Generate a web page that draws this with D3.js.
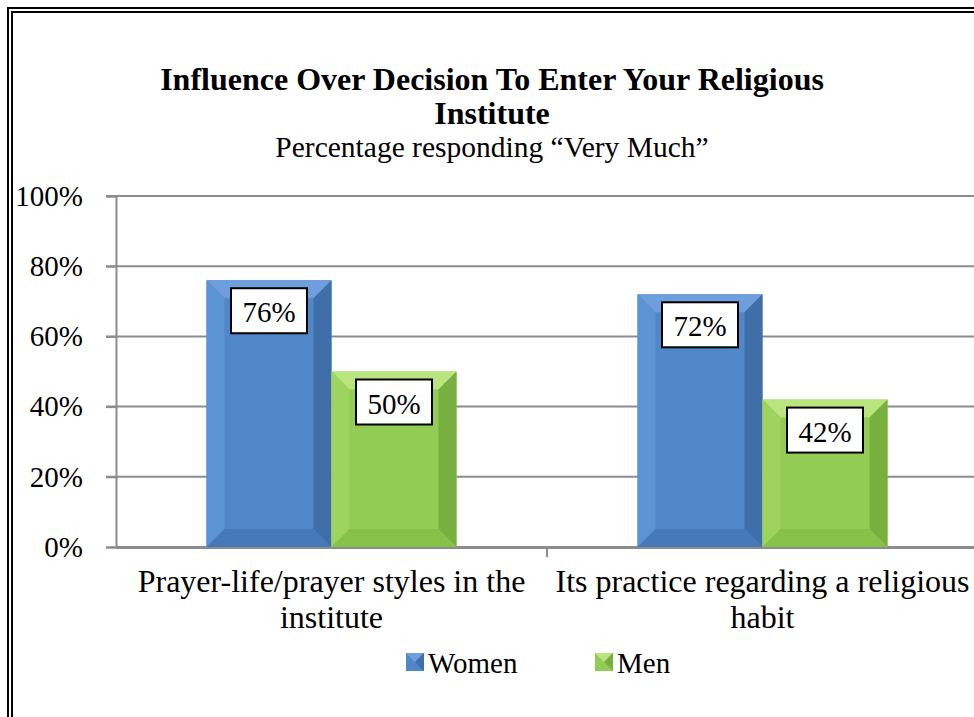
<!DOCTYPE html>
<html>
<head>
<meta charset="utf-8">
<script src="https://cdn.jsdelivr.net/npm/d3@7"></script>
</head>
<body style="margin:0; background:#fff;">
<script>
var w = 974;
var h = 717;
var font = "Liberation Serif";

var categories = ["Prayer-life/prayer styles in the institute", "Its practice regarding a religious habit"];
var categoryLines = [["Prayer-life/prayer styles in the", "institute"], ["Its practice regarding a religious", "habit"]];
var seriesNames = ["Women", "Men"];
var women = [0.76, 0.72];
var men = [0.50, 0.42];
var yTicks = [0, 0.2, 0.4, 0.6, 0.8, 1.0];

var colors = {
	Women: { face: "#5087C8", top: "#6E9FDC", left: "#5C93D2", right: "#3F6EA8", bottom: "#4679B8" },
	Men: { face: "#92CC55", top: "#B9E47E", left: "#9DD45F", right: "#78B040", bottom: "#86C24A" }
};

var svg = d3.select("body")
			.append("svg")
			.attr("width", w)
			.attr("height", h)
			.style("font-family", font);

svg.append("rect").attr("width", w).attr("height", h).attr("fill", "#fff");

// double border
svg.append("rect")
	.attr("x", 8).attr("y", 8).attr("width", 1000).attr("height", 1000)
	.attr("fill", "none").attr("stroke", "#000").attr("stroke-width", 2);
svg.append("rect")
	.attr("x", 12).attr("y", 12).attr("width", 1000).attr("height", 1000)
	.attr("fill", "none").attr("stroke", "#000").attr("stroke-width", 2);

// title
svg.append("text")
	.attr("x", 492).attr("y", 90)
	.attr("text-anchor", "middle")
	.style("font-family", font)
	.attr("font-weight", "bold").attr("font-size", 32)
	.text("Influence Over Decision To Enter Your Religious");
svg.append("text")
	.attr("x", 492).attr("y", 124)
	.attr("text-anchor", "middle")
	.style("font-family", font)
	.attr("font-weight", "bold").attr("font-size", 32)
	.text("Institute");
svg.append("text")
	.attr("x", 492).attr("y", 157)
	.attr("text-anchor", "middle")
	.style("font-family", font)
	.attr("font-size", 29.5)
	.text("Percentage responding \u201CVery Much\u201D");

var xScale = d3.scaleBand()
				.domain(categories)
				.range([116, 978]);

var xInner = d3.scaleBand()
				.domain(seriesNames)
				.range([0, xScale.bandwidth()])
				.paddingOuter(0.724);

var yScale = d3.scaleLinear()
				.domain([0, 1])
				.range([547, 196]);

// gridlines
svg.selectAll("line.grid")
	.data(yTicks.slice(1))
	.enter()
	.append("line")
	.attr("class", "grid")
	.attr("x1", 106).attr("x2", 980)
	.attr("y1", function(d) { return yScale(d); })
	.attr("y2", function(d) { return yScale(d); })
	.attr("stroke", "#8c8c8c").attr("stroke-width", 2);

// y axis
var yAxis = d3.axisLeft(yScale)
				.tickValues(yTicks)
				.tickSize(10)
				.tickPadding(23)
				.tickFormat(d3.format(".0%"));
var gy = svg.append("g").attr("transform", "translate(116,0)").call(yAxis);
gy.select(".domain").attr("stroke", "#8c8c8c").attr("stroke-width", 2);
gy.selectAll(".tick line").attr("stroke", "#8c8c8c").attr("stroke-width", 2);
gy.selectAll(".tick text")
	.style("font-family", font)
	.attr("font-size", 29)
	.attr("fill", "#000");

// x axis
var xAxis = d3.axisBottom(xScale).tickSize(0).tickFormat("");
var gx = svg.append("g").attr("transform", "translate(0,547)").call(xAxis);
gx.select(".domain").attr("stroke", "#8c8c8c").attr("stroke-width", 3);
gx.selectAll(".tick").remove();
svg.append("line")
	.attr("x1", xScale.range()[0] + xScale.bandwidth()).attr("x2", xScale.range()[0] + xScale.bandwidth())
	.attr("y1", 547).attr("y2", 557)
	.attr("stroke", "#8c8c8c").attr("stroke-width", 2);

// category labels
categories.forEach(function(c, i) {
	var t = svg.append("text")
		.attr("x", xScale(c) + xScale.bandwidth() / 2)
		.attr("text-anchor", "middle")
		.style("font-family", font)
		.attr("font-size", 32);
	categoryLines[i].forEach(function(line, j) {
		t.append("tspan")
			.attr("x", xScale(c) + xScale.bandwidth() / 2)
			.attr("y", 592 + j * 36)
			.text(line);
	});
});

// bars data
var bars = [];
categories.forEach(function(c, i) {
	bars.push({ cat: c, series: "Women", value: women[i] });
	bars.push({ cat: c, series: "Men", value: men[i] });
});

var bev = 18;

var barG = svg.selectAll("g.bar")
	.data(bars)
	.enter()
	.append("g")
	.attr("class", "bar");

barG.each(function(d) {
	var g = d3.select(this);
	var x0 = xScale(d.cat) + xInner(d.series);
	var x1 = x0 + xInner.bandwidth();
	var y0 = yScale(d.value);
	var y1 = yScale(0);
	var c = colors[d.series];
	var b = Math.min(bev, (y1 - y0) / 2);
	g.append("rect")
		.attr("x", x0).attr("y", y0)
		.attr("width", x1 - x0).attr("height", y1 - y0)
		.attr("fill", c.face);
	// bevel edges
	g.append("polygon")
		.attr("points", [[x0, y0], [x1, y0], [x1 - b, y0 + b], [x0 + b, y0 + b]].join(" "))
		.attr("fill", c.top);
	g.append("polygon")
		.attr("points", [[x0, y0], [x0 + b, y0 + b], [x0 + b, y1 - b], [x0, y1]].join(" "))
		.attr("fill", c.left);
	g.append("polygon")
		.attr("points", [[x1, y0], [x1, y1], [x1 - b, y1 - b], [x1 - b, y0 + b]].join(" "))
		.attr("fill", c.right);
	g.append("polygon")
		.attr("points", [[x0, y1], [x0 + b, y1 - b], [x1 - b, y1 - b], [x1, y1]].join(" "))
		.attr("fill", c.bottom);

	// data label box
	var cx = (x0 + x1) / 2;
	g.append("rect")
		.attr("x", cx - 38).attr("y", y0 + 8)
		.attr("width", 76).attr("height", 45)
		.attr("fill", "#fff").attr("stroke", "#000").attr("stroke-width", 2);
	g.append("text")
		.attr("x", cx).attr("y", y0 + 42)
		.attr("text-anchor", "middle")
		.style("font-family", font)
		.attr("font-size", 29)
		.text(d3.format(".0%")(d.value));
});

// legend
var legendX = [406, 595];
seriesNames.forEach(function(s, i) {
	var c = colors[s];
	var lx = legendX[i], ly = 653, sz = 18;
	svg.append("rect").attr("x", lx).attr("y", ly).attr("width", sz).attr("height", sz).attr("fill", c.face);
	svg.append("polygon")
		.attr("points", [[lx, ly], [lx + sz, ly], [lx + sz / 2, ly + sz / 2]].join(" "))
		.attr("fill", c.top);
	svg.append("polygon")
		.attr("points", [[lx + sz, ly], [lx + sz, ly + sz], [lx + sz / 2, ly + sz / 2]].join(" "))
		.attr("fill", c.right);
	svg.append("text")
		.attr("x", lx + sz + 4).attr("y", ly + 20)
		.style("font-family", font)
		.attr("font-size", 29)
		.text(s);
});
</script>
</body>
</html>
